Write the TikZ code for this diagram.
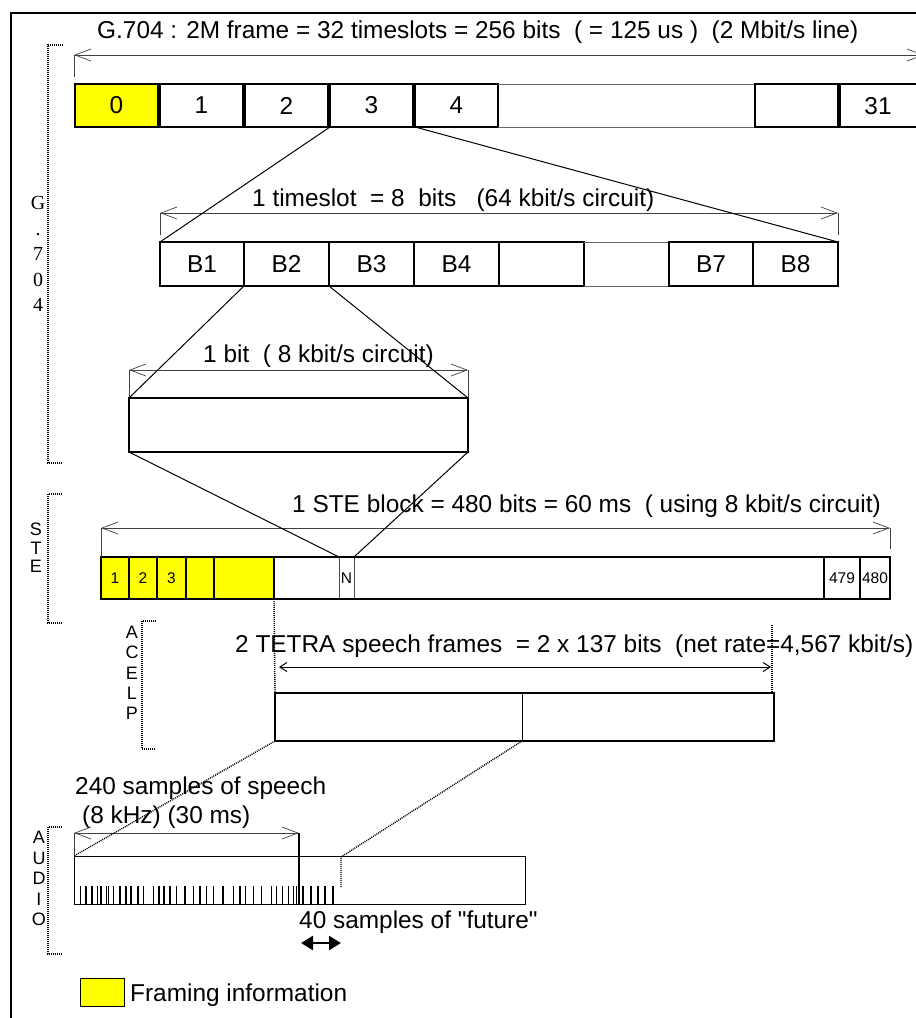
\documentclass[tikz,border=0pt]{standalone}
\usepackage{fontspec}
\setmainfont{Liberation Sans}
\newfontfamily\gserif{Liberation Serif}
\newfontfamily\plainsans{Liberation Sans}
\usetikzlibrary{arrows.meta}
\definecolor{frameyellow}{HTML}{FFFF00}
\tikzset{
 cell/.style={draw, line width=1.3pt, inner sep=0pt, outer sep=0pt, anchor=north west, font=\fontsize{24.4}{28}\selectfont},
 gapcell/.style={inner sep=0pt, outer sep=0pt, anchor=north west},
 lab/.style={inner sep=0pt, anchor=base west, font=\fontsize{24.4}{28}\selectfont},
 small/.style={font=\fontsize{15.5}{17}\selectfont},
 dim/.style={line width=0.7pt, draw=black!75, {Straight Barb[length=16pt,width=12pt]}-{Straight Barb[length=16pt,width=12pt]}},
 dimtick/.style={line width=0.7pt, draw=black!75},
 thinrule/.style={line width=0.7pt, draw=black!60},
 conn/.style={line width=1pt},
 dotline/.style={line width=1.4pt, dash pattern=on 1pt off 1pt},
 bracket/.style={line width=1.4pt, dash pattern=on 1pt off 1pt},
 vlet/.style={align=center, inner sep=0pt, anchor=north},
}
\begin{document}
\begin{tikzpicture}[x=1pt,y=-1pt]
\useasboundingbox (0,0) rectangle (916,1018);
\clip (0,0) rectangle (916,1018);
% outer frame
\coordinate (fbl) at (11,1030); \coordinate (ftl) at (11,13); \coordinate (ftr) at (930,13);
\draw[line width=1.3pt] (fbl) -- (ftl) -- (ftr);

% ---------- G.704 frame ----------
\node[lab] (title) at (97,38) {G.704 : 2M frame = 32 timeslots = 256 bits\ \ ( = 125 us )\ \ (2 Mbit/s line)};
\coordinate (d1l) at (74,55); \coordinate (d1r) at (924,55);
\draw[dim] (d1l) -- (d1r);
\draw[dimtick] (d1l) -- ++(0,22);

\node[cell, fill=frameyellow, minimum width=83pt, minimum height=43pt] (s0) at (75,84) {0};
\node[cell, minimum width=83pt, minimum height=43pt] (s1) at (160,84) {1};
\node[cell, minimum width=83pt, minimum height=43pt] (s2) at (245,84) {2};
\node[cell, minimum width=83pt, minimum height=43pt] (s3) at (330,84) {3};
\node[cell, minimum width=83pt, minimum height=43pt] (s4) at (415,84) {4};
\node[gapcell, minimum width=257pt, minimum height=43pt] (sgap) at (498,84) {};
\draw[thinrule] (sgap.north west) -- (sgap.north east);
\draw[thinrule] (sgap.south west) -- (sgap.south east);
\node[cell, minimum width=83pt, minimum height=43pt] (s30) at (755,84) {};
\node[cell, minimum width=100pt, minimum height=43pt] (s31) at (840,84) {};
\node[inner sep=0pt, font=\fontsize{24.4}{28}\selectfont] (l31) at (878,106) {31};

% ---------- timeslot ----------
\node[lab] (ts) at (252,206) {1 timeslot\ \ = 8\ \ bits\ \ \ (64 kbit/s circuit)};
\coordinate (d2l) at (160,213); \coordinate (d2r) at (838,213);
\draw[dim] (d2l) -- (d2r);
\draw[dimtick] (d2l) -- ++(0,22);
\draw[dimtick] (d2r) -- ++(0,22);

\node[cell, minimum width=84pt, minimum height=44pt] (tB1) at (160,242) {B1};
\node[cell, minimum width=85pt, minimum height=44pt] (tB2) at (244,242) {B2};
\node[cell, minimum width=85pt, minimum height=44pt] (tB3) at (329,242) {B3};
\node[cell, minimum width=85pt, minimum height=44pt] (tB4) at (414,242) {B4};
\node[cell, minimum width=85pt, minimum height=44pt] (tB5) at (499,242) {};
\node[gapcell, minimum width=85pt, minimum height=44pt] (tgap) at (584,242) {};
\draw[thinrule] (tgap.north west) -- (tgap.north east);
\draw[thinrule] (tgap.south west) -- (tgap.south east);
\node[cell, minimum width=84pt, minimum height=44pt] (tB7) at (669,242) {B7};
\node[cell, minimum width=85pt, minimum height=44pt] (tB8) at (753,242) {B8};

\draw[conn] (s3.south west) -- (tB1.north west);
\draw[conn] (s4.south west) -- (tB8.north east);

% ---------- bit ----------
\node[lab] (bt) at (203,362) {1 bit\ \ ( 8 kbit/s circuit)};
\node[cell, line width=1.5pt, minimum width=339pt, minimum height=54pt] (bit) at (129,398) {};
\coordinate (d3l) at (129,370); \coordinate (d3r) at (468,370);
\draw[dim] (d3l) -- (d3r);
\draw[dimtick] (d3l) -- (bit.north west);
\draw[dimtick] (d3r) -- (bit.north east);
\draw[conn] (tB2.south west) -- (bit.north west);
\draw[conn] (tB2.south east) -- (bit.north east);

% ---------- STE block ----------
\node[lab] (stet) at (292,512) {1 STE block = 480 bits = 60 ms\ \ ( using 8 kbit/s circuit)};
\node[cell, line width=0.8pt, draw=black!70, minimum width=15pt, minimum height=42pt, small] (cN) at (339,557) {N};
\node[cell, line width=1.5pt, minimum width=789pt, minimum height=42pt] (ste) at (101,557) {};
\node[cell, fill=frameyellow, minimum width=28pt, minimum height=42pt, small] (c1) at (101,557) {1};
\node[cell, fill=frameyellow, minimum width=28pt, minimum height=42pt, small] (c2) at (129,557) {2};
\node[cell, fill=frameyellow, minimum width=29pt, minimum height=42pt, small] (c3) at (157,557) {3};
\node[cell, fill=frameyellow, minimum width=28pt, minimum height=42pt] (c4) at (186,557) {};
\node[cell, fill=frameyellow, minimum width=60pt, minimum height=42pt] (c5) at (214,557) {};
\node[cell, minimum width=36pt, minimum height=42pt, small] (c479) at (824,557) {479};
\node[cell, minimum width=30pt, minimum height=42pt, small] (c480) at (860,557) {480};
\coordinate (d4l) at (101,528); \coordinate (d4r) at (890,528);
\draw[dim] (d4l) -- (d4r);
\draw[dimtick] (d4l) -- (ste.north west);
\draw[dimtick] (d4r) -- ++(0,21);
\draw[conn] (bit.south west) -- (cN.north west);
\draw[conn] (bit.south east) -- (cN.north east);

% ---------- ACELP ----------
\node[lab] (tet) at (235,652) {2 TETRA speech frames\ \ = 2 x 137 bits\ \ (net rate=4,567 kbit/s)};
\node[cell, line width=1.5pt, minimum width=499pt, minimum height=48pt] (acelp) at (275,693) {};
\coordinate (adt) at (522,693); \coordinate (adb) at (522,741);
\draw[line width=1pt] (adt) -- (adb);
\draw[dotline] (c5.south east) -- (acelp.north west);
\coordinate (tdr) at (772,625); \coordinate (tdrb) at (772,693);
\draw[dotline] (tdr) -- (tdrb);
\coordinate (tal) at (279,667); \coordinate (tar) at (771,667);
\draw[line width=1pt, {Straight Barb[length=7pt,width=9pt]}-{Straight Barb[length=7pt,width=9pt]}] (tal) -- (tar);

% ---------- AUDIO ----------
\node[lab] (sp1) at (75,794) {240 samples of speech};
\node[lab] (sp2) at (82,823) {(8 kHz) (30 ms)};
\node[cell, line width=1pt, minimum width=451pt, minimum height=48pt] (audio) at (74,856) {};
\coordinate (d5l) at (74,833); \coordinate (d5r) at (299,833); \coordinate (d5b) at (299,904);
\draw[dim] (d5l) -- (d5r);
\draw[dimtick] (d5l) -- (audio.north west);
\draw[line width=1.2pt] (d5r) -- (d5b);
\foreach \x in {80.7,86,92,97.7,101,106.7,108.3,113.3,120,126,131,137.7,143.3,153.3,159,164,170,176.7,185,193.3,200,206.7,213.3,222.7,233.3,240,245.3,253.3,261.7,271.7,276.7,282.3,288.3,293.3,303,311,318,325,333}
  \draw[line width=1.1pt] (\x,886) -- (\x,904);
\foreach \x in {101,137.7,164,185,222.7,296.5}
  \draw[line width=1.9pt] (\x,886) -- (\x,904);
\coordinate (fut1) at (341,857); \coordinate (fut2) at (341,887);
\draw[dotline] (acelp.south west) -- (audio.north west);
\draw[dotline] (adb) -- (fut1) -- (fut2);
\node[lab] (fut) at (299,928) {40 samples of {\plainsans\symbol{34}}future{\plainsans\symbol{34}}};
\coordinate (fa1) at (301,943); \coordinate (fa2) at (341,943);
\draw[line width=2.6pt, {Triangle[length=12pt,width=14pt]}-{Triangle[length=12pt,width=14pt]}] (fa1) -- (fa2);

% ---------- brackets and side labels ----------
\draw[bracket] (63,45) -- (48,45) -- (48,463) -- (62,463);
\draw[bracket] (62,494) -- (48,494) -- (48,623) -- (62,623);
\draw[bracket] (156,621) -- (142,621) -- (142,749) -- (156,749);
\draw[bracket] (62,827) -- (48,827) -- (48,954) -- (62,954);
\node[vlet, font=\gserif\fontsize{20}{25.5}\selectfont] (lg) at (38,196.5) {G\\.\\7\\0\\4};
\node[vlet, font=\fontsize{18}{18.5}\selectfont] (ls) at (36,523) {S\\T\\E};
\node[vlet, font=\fontsize{18}{20.3}\selectfont] (la) at (132,626) {A\\C\\E\\L\\P};
\node[vlet, font=\fontsize{18}{20.5}\selectfont] (lau) at (39,831) {A\\U\\D\\I\\O};

% ---------- legend ----------
\node[draw, fill=frameyellow, line width=0.8pt, minimum width=44pt, minimum height=28pt, anchor=north west, inner sep=0pt, outer sep=0pt] (leg) at (80,978) {};
\node[lab] (legt) at (130,1001) {Framing information};
\end{tikzpicture}
\end{document}
